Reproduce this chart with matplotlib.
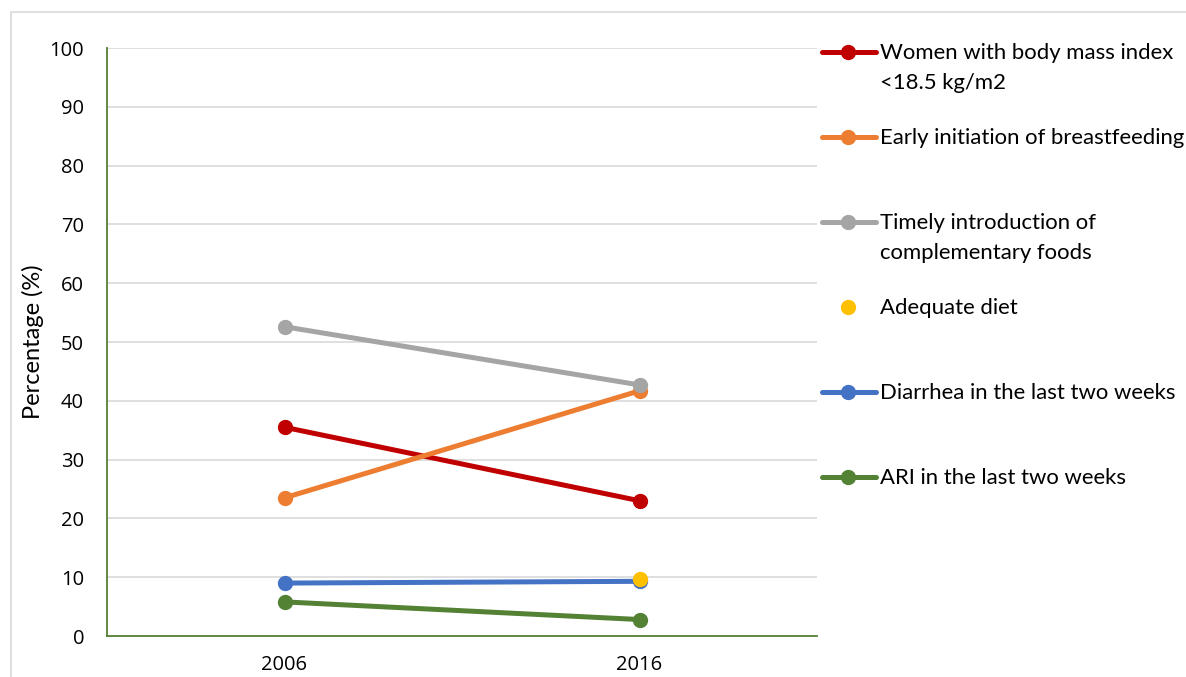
import matplotlib
matplotlib.use('Agg')
import matplotlib.pyplot as plt
from matplotlib.lines import Line2D
from matplotlib.patches import Rectangle

years = ['2006', '2016']
series_names = ['Women with body mass index\n<18.5 kg/m2',
                'Early initiation of breastfeeding',
                'Timely introduction of\ncomplementary foods',
                'Adequate diet',
                'Diarrhea in the last two weeks',
                'ARI in the last two weeks']
women_bmi = [35.5, 23.0]
early_bf = [23.5, 41.7]
timely_cf = [52.6, 42.7]
adequate_diet = [None, 9.7]
diarrhea = [9.0, 9.3]
ari = [5.8, 2.8]
y_ticks = [0, 10, 20, 30, 40, 50, 60, 70, 80, 90, 100]

colors = ['#C00000', '#ED7D31', '#A5A5A5', '#FFC000', '#4472C4', '#548235']
# draw order: excel draws later series on top
order = [0, 1, 2, 4, 5, 3]
all_values = [women_bmi, early_bf, timely_cf, adequate_diet, diarrhea, ari]

W, H = 1186, 677
fig = plt.figure(figsize=(W / 100, H / 100), dpi=100)
ax = fig.add_axes([107 / W, 1 - 636 / H, (817 - 107) / W, (636 - 48) / H])

xs = list(range(len(years)))
for i in order:
    vals = all_values[i]
    pts = [(x, v) for x, v in zip(xs, vals) if v is not None]
    px = [p[0] for p in pts]
    py = [p[1] for p in pts]
    ls = '-' if len(pts) > 1 else 'none'
    ax.plot(px, py, color=colors[i], lw=3.6, ls=ls, marker='o', ms=10,
            solid_capstyle='round', zorder=3)

ax.set_xlim(-0.5, len(years) - 0.5)
ax.set_ylim(0, 100)
ax.set_xticks(xs)
ax.set_xticklabels(years, fontsize=14.5, family='Open Sans')
ax.set_yticks(y_ticks)
ax.set_yticklabels([str(t) for t in y_ticks], fontsize=14.5, family='Open Sans')
ax.tick_params(length=0, pad=16.5)
ax.tick_params(axis='x', pad=14)
ax.yaxis.grid(True, color='#D9D9D9', lw=1.2)
ax.set_axisbelow(True)
for s in ['top', 'right']:
    ax.spines[s].set_visible(False)
for s in ['left', 'bottom']:
    ax.spines[s].set_color('#548235')
    ax.spines[s].set_linewidth(1.3)
ax.set_ylabel('Percentage (%)', fontsize=17, family='Lato')
ax.yaxis.set_label_coords((44 - 107) / 710, 0.5)

# legend drawn by hand to get Excel-like fixed slots
for k, name in enumerate(series_names):
    yc = 1 - (52 + 85 * k) / H
    x0, x1, xm = 822 / W, 876 / W, 848 / W
    if all(v is not None for v in all_values[k]):
        fig.add_artist(Line2D([x0, x1], [yc, yc], color=colors[k], lw=3.6,
                              solid_capstyle='round', transform=fig.transFigure))
    fig.add_artist(Line2D([xm], [yc], color=colors[k], marker='o', ms=10,
                          ls='none', transform=fig.transFigure))
    for j, line in enumerate(name.split('\n')):
        fig.text(880 / W, yc - (30 * j - 1) / H, line, fontsize=15.9,
                 family='Lato', va='center_baseline', ha='left')

fig.add_artist(Rectangle((11 / W, -0.1), 1.2, 1.1 - 12 / H, fill=False,
                         edgecolor='#D9D9D9', lw=1.2, transform=fig.transFigure))

fig.savefig('out.png', dpi=100)
